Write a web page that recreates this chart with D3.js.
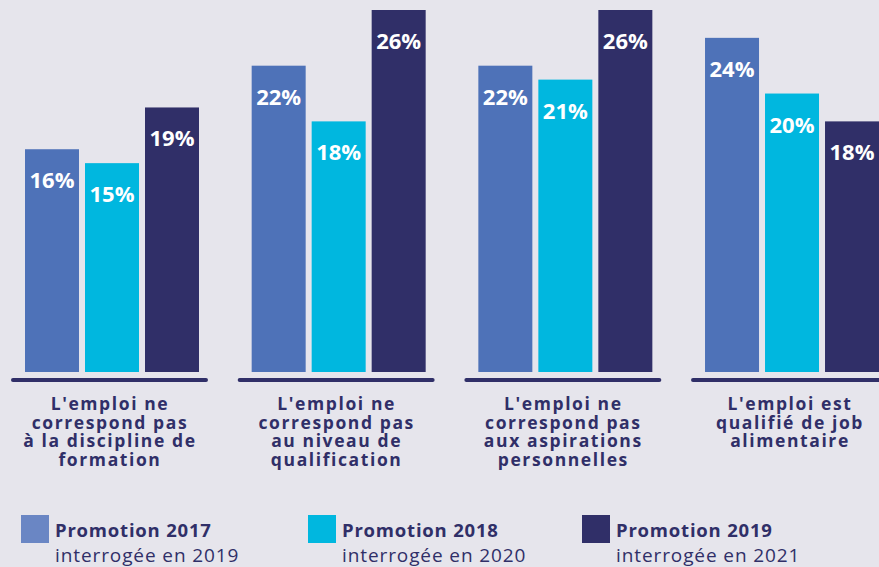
<!DOCTYPE html>
<html><head><meta charset="utf-8">
<script src="https://cdn.jsdelivr.net/npm/d3@7"></script>
<style>
html,body{margin:0;padding:0;background:#e6e5ec;}
svg{display:block;}
text{font-family:"Open Sans",sans-serif;}
</style></head>
<body>
<script>
const categories = [
  ["L'emploi ne","correspond pas","à la discipline de","formation"],
  ["L'emploi ne","correspond pas","au niveau de","qualification"],
  ["L'emploi ne","correspond pas","aux aspirations","personnelles"],
  ["L'emploi est","qualifié de job","alimentaire"]
];
const seriesNames = ["Promotion 2017","Promotion 2018","Promotion 2019"];
const seriesSub = ["interrogée en 2019","interrogée en 2020","interrogée en 2021"];
const values2017 = [16,22,22,24];
const values2018 = [15,18,21,20];
const values2019 = [19,26,26,18];
const barColors = ["#4e72b8","#00b7df","#302f68"];
const legendColors = ["#6a86c4","#00b7df","#302f68"];

const W = 879, H = 567;
const svg = d3.select("body").append("svg").attr("width",W).attr("height",H);
svg.append("rect").attr("width",W).attr("height",H).attr("fill","#e6e5ec");

const series = [values2017, values2018, values2019];
const groupIdx = categories.map((d,i)=>i);

const x0 = d3.scaleBand().domain(groupIdx).range([11, 888]).paddingInner(0.131).paddingOuter(0);
const x1 = d3.scaleBand().domain([0,1,2]).range([14, 188]).paddingInner(0.1).paddingOuter(0);
const y = d3.scaleLinear().domain([0,26]).range([372,10]);

const g = svg.selectAll("g.grp").data(groupIdx).join("g")
  .attr("class","grp").attr("transform",d=>`translate(${x0(d)},0)`);

g.selectAll("rect.bar").data(gi=>series.map((s,si)=>({si, v:s[gi]}))).join("rect")
  .attr("class","bar")
  .attr("x",d=>x1(d.si)).attr("width",x1.bandwidth())
  .attr("y",d=>y(d.v)).attr("height",d=>y(0)-y(d.v))
  .attr("fill",d=>barColors[d.si]);

g.selectAll("text.val").data(gi=>series.map((s,si)=>({si, v:s[gi]}))).join("text")
  .attr("class","val")
  .attr("x",d=>x1(d.si)+x1.bandwidth()/2).attr("y",d=>y(d.v)+39)
  .attr("text-anchor","middle").attr("fill","#ffffff")
  .attr("font-size",22).attr("font-weight",700)
  .text(d=>d.v+"%");

// axis line
g.append("line")
  .attr("x1",2).attr("x2",x0.bandwidth()-2)
  .attr("y1",380).attr("y2",380)
  .attr("stroke","#302f68").attr("stroke-width",4).attr("stroke-linecap","round");

// category labels
g.append("text")
  .attr("text-anchor","middle").attr("fill","#302f68")
  .attr("font-size",17.5).attr("font-weight",700)
  .attr("letter-spacing",1.6)
  .selectAll("tspan").data(gi=>categories[gi]).join("tspan")
  .attr("x",x0.bandwidth()/2 + 0.5)
  .attr("y",(d,i)=>410+i*18.7)
  .text(d=>d);

// legend
const legendX = [21, 308, 582];
const lg = svg.selectAll("g.leg").data(seriesNames).join("g")
  .attr("class","leg").attr("transform",(d,i)=>`translate(${legendX[i]},515)`);
lg.append("rect").attr("width",28).attr("height",28).attr("fill",(d,i)=>legendColors[i]);
lg.append("text").attr("x",34).attr("y",22).attr("fill","#302f68")
  .attr("font-size",18.5).attr("font-weight",700).attr("letter-spacing",0.8).text(d=>d);
lg.append("text").attr("x",34).attr("y",47).attr("fill","#302f68")
  .attr("font-size",19).attr("font-weight",400).attr("letter-spacing",0.9).text((d,i)=>seriesSub[i]);
</script>
</body></html>
